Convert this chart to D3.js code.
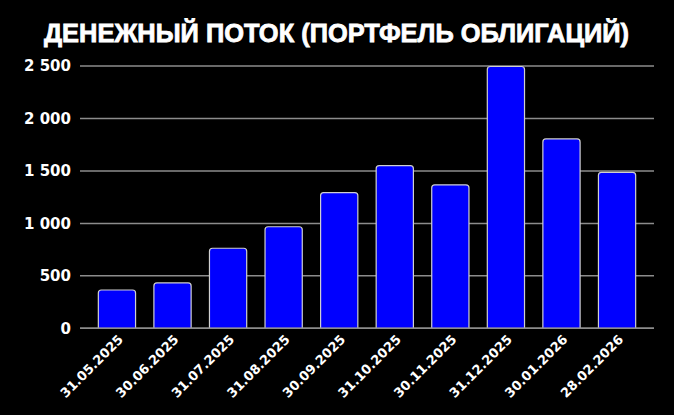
<!DOCTYPE html>
<html><head><meta charset="utf-8">
<script src="https://cdn.jsdelivr.net/npm/d3@7"></script>
<style>
html,body{margin:0;padding:0;background:#000;}
svg{display:block;}
</style></head>
<body>
<script>
const title = "ДЕНЕЖНЫЙ ПОТОК (ПОРТФЕЛЬ ОБЛИГАЦИЙ)";
const categories = ["31.05.2025","30.06.2025","31.07.2025","31.08.2025","30.09.2025","31.10.2025","30.11.2025","31.12.2025","30.01.2026","28.02.2026"];
const values = [365, 432, 763, 968, 1294, 1550, 1367, 2495, 1805, 1487];
const yTicks = [0, 500, 1000, 1500, 2000, 2500];

const W = 674, H = 415;
const svg = d3.select("body").append("svg").attr("width", W).attr("height", H);
svg.append("rect").attr("width", W).attr("height", H).attr("fill", "#000");

const x = d3.scaleBand().domain(categories).range([80, 654]).padding(0.33);
const y = d3.scaleLinear().domain([0, 2500]).range([328.3, 66]);

// gridlines
svg.append("g").selectAll("line").data(yTicks).join("line")
  .attr("x1", 80).attr("x2", 654)
  .attr("y1", d => y(d)).attr("y2", d => y(d))
  .attr("stroke", "#8c8c8c").attr("stroke-width", 1.5);

// y labels
const fmt = d => d3.format(",")(d).replace(/,/g, " ");
svg.append("g").selectAll("text").data(yTicks).join("text")
  .attr("x", 71).attr("y", d => y(d)).attr("dy", "0.36em")
  .attr("text-anchor", "end")
  .attr("fill", "#fff").attr("font-family", "DejaVu Sans").attr("font-weight", "bold")
  .attr("font-size", 15).text(fmt);

// bars with rounded top corners
const r = 3;
function barPath(d, i) {
  const x0 = x(categories[i]), w = x.bandwidth();
  const yt = y(d), yb = y(0);
  return `M${x0},${yb} L${x0},${yt + r} Q${x0},${yt} ${x0 + r},${yt} L${x0 + w - r},${yt} Q${x0 + w},${yt} ${x0 + w},${yt + r} L${x0 + w},${yb} Z`;
}
svg.append("g").selectAll("path").data(values).join("path")
  .attr("d", barPath)
  .attr("fill", "#0000ff").attr("stroke", "#d0d0d0").attr("stroke-width", 1.2);

// baseline
svg.append("line").attr("x1", 80).attr("x2", 654).attr("y1", y(0)).attr("y2", y(0))
  .attr("stroke", "#8c8c8c").attr("stroke-width", 1.5);

// x labels
svg.append("g").selectAll("text").data(categories).join("text")
  .attr("transform", d => `translate(${x(d) + x.bandwidth() / 2 + 7},${y(0) + 12}) rotate(-45)`)
  .attr("text-anchor", "end")
  .attr("fill", "#fff").attr("font-family", "DejaVu Sans").attr("font-weight", "bold")
  .attr("font-size", 13).text(d => d);

// title
svg.append("text").attr("x", 336.5).attr("y", 42)
  .attr("text-anchor", "middle").attr("fill", "#fff")
  .attr("stroke", "#fff").attr("stroke-width", 0.8)
  .attr("font-family", "Liberation Sans, Arial").attr("font-weight", "bold")
  .attr("font-size", 26).attr("textLength", 585).attr("lengthAdjust", "spacingAndGlyphs")
  .text(title);
</script>
</body></html>
